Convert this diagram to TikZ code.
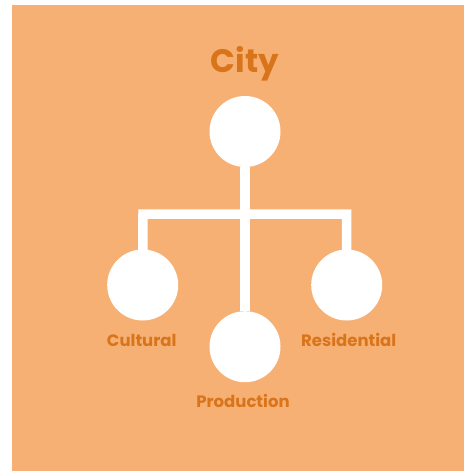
\documentclass[tikz,border=0pt]{standalone}
\usepackage{fontspec}
\setmainfont{Poppins}
\definecolor{bgor}{HTML}{F7B073}
\definecolor{txtor}{HTML}{D8741A}
\begin{document}
\begin{tikzpicture}[x=1pt,y=-1pt,
  circ/.style={circle,fill=white,minimum size=71pt,inner sep=0pt},
  lbl/.style={text=txtor,font=\bfseries\fontsize{16.5}{18}\selectfont,anchor=base,inner sep=0pt},
  conn/.style={white,line width=9.5pt,miter limit=10}]
\useasboundingbox (0,0) rectangle (464,471);
\fill[white] (0,0) rectangle (464,471);
\fill[bgor] (11.5,5) rectangle (464,470.5);
\node[text=txtor,font=\bfseries\fontsize{32.5}{36}\selectfont,anchor=base,inner sep=0pt] (title) at (245,72.7) {City};
\node[circ] (city) at (245,131.5) {};
\node[circ] (cult) at (142.7,285) {};
\node[circ] (resi) at (346.7,285) {};
\node[circ] (prod) at (245,346.7) {};
\coordinate (jl) at (143,214);
\coordinate (jr) at (346.7,214);
\draw[conn] (city) -- (prod);
\draw[conn] (cult.center) -- (jl) -- (jr) -- (resi.center);
\node[lbl] (lc) at (141.7,346.7) {Cultural};
\node[lbl] (lr) at (348.7,346.7) {Residential};
\node[lbl] (lp) at (243,407.3) {Production};
\end{tikzpicture}
\end{document}
